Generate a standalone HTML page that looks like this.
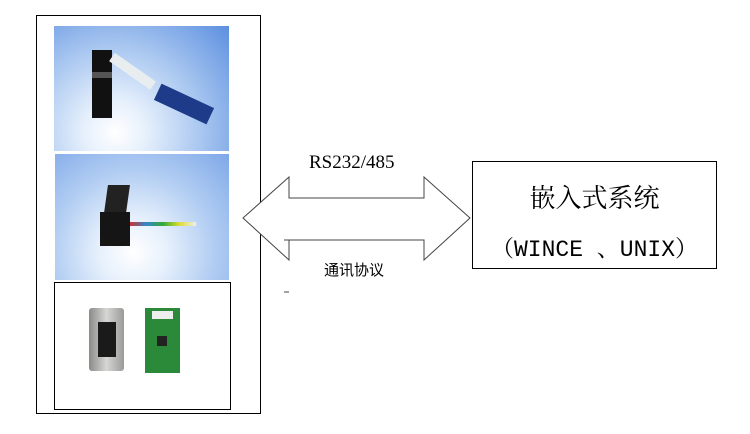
<!DOCTYPE html>
<html><head><meta charset="utf-8"><style>
body{margin:0;background:#fff;width:750px;height:434px;overflow:hidden;position:relative;font-family:"Liberation Serif","Noto Serif CJK SC",serif}
.a{position:absolute}
</style></head><body>
<div class="a" style="left:36px;top:15px;width:223px;height:397px;border:1px solid #000"></div>
<div class="a" style="left:54px;top:26px;width:175px;height:125px;background:radial-gradient(circle at 35% 85%,#ffffff 0%,#e6f0fc 20%,#a9c7f0 55%,#5c8fe0 100%)"></div>
<div class="a" style="left:92px;top:50px;width:20px;height:68px;background:#111"></div>
<div class="a" style="left:92px;top:72px;width:20px;height:6px;background:#555"></div>
<div class="a" style="left:112px;top:52px;width:50px;height:10px;background:#e8eef0;transform:rotate(35deg);transform-origin:left"></div>
<div class="a" style="left:155px;top:95px;width:58px;height:18px;background:#1e3b8a;transform:rotate(25deg)"></div>
<div class="a" style="left:55px;top:154px;width:174px;height:126px;background:radial-gradient(circle at 45% 78%,#ffffff 0%,#e6f0fc 25%,#b0ccf2 60%,#7ea8e8 100%)"></div>
<div class="a" style="left:106px;top:185px;width:22px;height:28px;background:#222;transform:skewX(-8deg)"></div>
<div class="a" style="left:100px;top:212px;width:30px;height:34px;background:#151515"></div>
<div class="a" style="left:130px;top:222px;width:66px;height:4px;background:linear-gradient(90deg,#c33,#38c,#3a3,#dd3,#eee)"></div>
<div class="a" style="left:54px;top:282px;width:175px;height:126px;border:1px solid #000"></div>
<div class="a" style="left:89px;top:308px;width:35px;height:63px;background:linear-gradient(90deg,#8a8a88,#d6d6d4,#9a9a98);border-radius:3px"></div>
<div class="a" style="left:98px;top:322px;width:18px;height:35px;background:#1a1a1a"></div>
<div class="a" style="left:145px;top:308px;width:35px;height:65px;background:#2a8a3a"></div>
<div class="a" style="left:152px;top:311px;width:21px;height:8px;background:#eee"></div>
<div class="a" style="left:157px;top:336px;width:10px;height:10px;background:#222"></div>
<svg class="a" style="left:0;top:0" width="750" height="434">
<polygon points="243,218 289,177 289,198 424,198 424,177 470,218 424,260 424,240 289,240 289,260" fill="#fff" stroke="#444" stroke-width="1"/>
<line x1="284" y1="240" x2="289" y2="240" stroke="#444"/>
<line x1="284" y1="292" x2="289" y2="292" stroke="#444"/>
</svg>
<div class="a" style="left:472px;top:161px;width:243px;height:106px;border:1px solid #000"></div>
<div class="a" style="left:472px;top:180px;width:245px;text-align:center;font-size:26px;line-height:34px;font-family:'Noto Serif CJK SC',serif">嵌入式系统</div>
<div class="a" style="left:472px;top:236px;width:245px;text-align:center;font-size:23px;line-height:28px;font-family:'Liberation Mono','Noto Serif CJK SC',monospace">（WINCE 、UNIX）</div>
<div class="a" style="left:309px;top:152px;font-size:19px;line-height:22px">RS232/485</div>
<div class="a" style="left:324px;top:260px;font-size:15px;line-height:20px;font-family:'Noto Sans CJK SC',sans-serif">通讯协议</div>
</body></html>
